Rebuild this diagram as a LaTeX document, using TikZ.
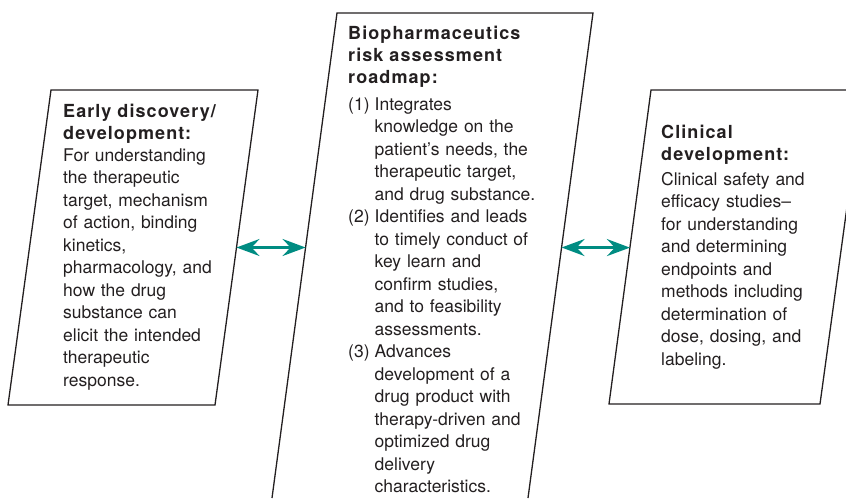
\documentclass[tikz,border=0pt]{standalone}
\usepackage{fontspec}
\setmainfont{TeX Gyre Heros}
\newfontfamily\titrefont[LetterSpace=6]{TeX Gyre Heros}
\usetikzlibrary{arrows.meta,calc}
\definecolor{sarcelle}{RGB}{0,140,130}
\definecolor{encre}{RGB}{35,31,32}

\begin{document}
\begin{tikzpicture}[x=1pt,y=-1pt]
	% Styles
	\tikzstyle{cadre}=[draw=encre,line width=1.3pt,line join=miter]
	\tikzstyle{fleche}=[{Stealth[length=23pt,width=17pt,inset=8pt]}-{Stealth[length=23pt,width=17pt,inset=8pt]},draw=sarcelle,line width=2.8pt]
	\tikzstyle{titre}=[anchor=base west,inner sep=0pt,text=encre,align=left,text width=200pt,font=\titrefont\bfseries\fontsize{18}{22}\selectfont]
	\tikzstyle{texte}=[anchor=base west,inner sep=0pt,text=encre,align=left,text width=210pt,font=\fontsize{17.5}{22.5}\selectfont]
	% Dimensions
	\def\ColG{63}
	\def\ColM{348}
	\def\ColD{661}
	\def\Retrait{26.5pt}
	% Cadre
	\useasboundingbox (0,0) rectangle (846,498);
	\clip (0,0) rectangle (846,498);
	% Coins des parallelogrammes
	\coordinate (Ghg) at (51,90);
	\coordinate (Ghd) at (258,90);
	\coordinate (Gbd) at (215,405);
	\coordinate (Gbg) at (8,405);
	\coordinate (Mhg) at (337,13);
	\coordinate (Mhd) at (593,13);
	\coordinate (Mbd) at (528,498);
	\coordinate (Mbg) at (272,498);
	\coordinate (Dhg) at (651,90);
	\coordinate (Dhd) at (863,90);
	\coordinate (Dbd) at (820,404);
	\coordinate (Dbg) at (609,404);
	\draw[cadre] (Ghg)--(Ghd)--(Gbd)--(Gbg)--cycle;
	\draw[cadre] (Mbg)--(Mhg)--(Mhd)--(Mbd);
	\draw[cadre] (Dhg)--(Dhd)--(Dbd)--(Dbg)--cycle;
	% Noeuds
	\node[titre] (titreG) at ({\ColG},117) {Early discovery/\\development:};
	\node[texte] (texteG) at ({\ColG},161) {For understanding\\the therapeutic\\target, mechanism\\of action, binding\\kinetics,\\pharmacology, and\\how the drug\\substance can\\elicit the intended\\therapeutic\\response.};
	%
	\node[titre] (titreM) at ({\ColM},39) {Biopharmaceutics\\risk assessment\\roadmap:};
	\node[texte] (texteM) at ({\ColM},110) {\makebox[\Retrait][l]{(1)}Integrates\\
		\hspace*{\Retrait}knowledge on the\\
		\hspace*{\Retrait}patient’s needs, the\\
		\hspace*{\Retrait}therapeutic target,\\
		\hspace*{\Retrait}and drug substance.\\
		\makebox[\Retrait][l]{(2)}Identifies and leads\\
		\hspace*{\Retrait}to timely conduct of\\
		\hspace*{\Retrait}key learn and\\
		\hspace*{\Retrait}confirm studies,\\
		\hspace*{\Retrait}and to feasibility\\
		\hspace*{\Retrait}assessments.\\
		\makebox[\Retrait][l]{(3)}Advances\\
		\hspace*{\Retrait}development of a\\
		\hspace*{\Retrait}drug product with\\
		\hspace*{\Retrait}therapy-driven and\\
		\hspace*{\Retrait}optimized drug\\
		\hspace*{\Retrait}delivery\\
		\hspace*{\Retrait}characteristics.};
	%
	\node[titre] (titreD) at ({\ColD},138) {Clinical\\development:};
	\node[texte] (texteD) at ({\ColD},185) {Clinical safety and\\efficacy studies–\\for understanding\\and determining\\endpoints and\\methods including\\determination of\\dose, dosing, and\\labeling.};
	% Extremites des fleches sur les bords
	\coordinate (bordG) at ($(Gbd)!0.5!(Ghd)$);
	\coordinate (bordMg) at ($(Mbg)!0.5165!(Mhg)$);
	\coordinate (bordMd) at ($(Mbd)!0.5165!(Mhd)$);
	\coordinate (bordD) at ($(Dbg)!0.498!(Dhg)$);
	% Fleches
	\draw[fleche] (bordG)--(bordMg);
	\draw[fleche] (bordMd)--(bordD);
\end{tikzpicture}
\end{document}
